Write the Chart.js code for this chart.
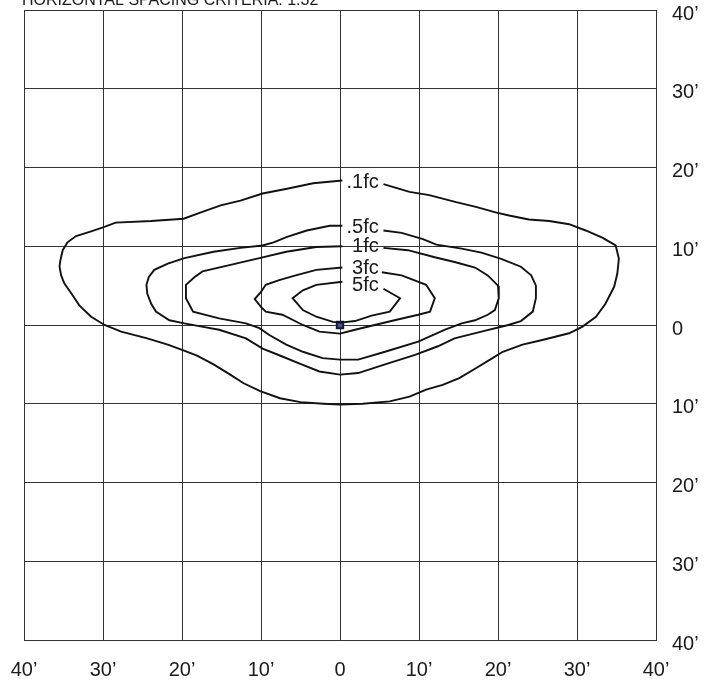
<!DOCTYPE html>
<html>
<head>
<meta charset="utf-8">
<script src="https://cdn.jsdelivr.net/npm/chart.js@4/dist/chart.umd.min.js"></script>
<style>
  html, body { margin: 0; padding: 0; background: #fff; }
  #wrap { width: 715px; height: 681px; position: relative; }
</style>
</head>
<body>
<div id="wrap"><canvas id="isoChart"></canvas></div>
<script>
// tick labels (feet from fixture)
const xTickLabels = ['40’', '30’', '20’', '10’', '0', '10’', '20’', '30’', '40’'];
const yTickLabels = ['40’', '30’', '20’', '10’', '0', '10’', '20’', '30’', '40’'];
const chartTitle = 'HORIZONTAL SPACING CRITERIA: 1.32';

// iso-footcandle levels and where their labels sit
const levelNames = ['.1fc', '.5fc', '1fc', '3fc', '5fc'];
const labelX = [4.9, 4.9, 4.9, 4.9, 4.9];
const labelY = [18.1, 12.4, 10.0, 7.2, 5.0];

// each contour starts right of its label, runs clockwise, ends left of the label
const contour01 = [
  [5.5, 17.9], [8.8, 16.9], [11.3, 16.5], [14.7, 15.6], [17.2, 15.0], [19.7, 14.3], [21.4, 13.9],
  [23.9, 13.4], [26.5, 13.2], [29.0, 12.8], [31.1, 12.0], [33.2, 11.1], [34.9, 10.1], [35.3, 8.4],
  [35.1, 6.5], [34.7, 4.85], [33.6, 2.7], [32.4, 1.05], [30.7, -0.2], [29.0, -1.05], [25.6, -1.9],
  [23.1, -2.5], [20.6, -3.4], [19.3, -4.2], [17.2, -5.5], [15.1, -6.75], [13.0, -7.6], [10.9, -8.2],
  [8.8, -9.1], [6.3, -9.7], [2.9, -10.0], [0, -10.1], [-2.1, -10.0], [-5.0, -9.8], [-7.6, -9.3],
  [-10.1, -8.4], [-12.2, -7.4], [-13.9, -6.3], [-16.0, -5.0], [-18.1, -3.9], [-19.9, -3.2],
  [-21.8, -2.5], [-24.4, -1.7], [-27.7, -0.84], [-29.8, 0], [-31.5, 1.05], [-33.0, 2.5], [-34.0, 4.0],
  [-34.9, 5.3], [-35.3, 6.3], [-35.5, 7.4], [-35.4, 8.2], [-35.1, 9.5], [-34.5, 10.5], [-33.4, 11.3],
  [-31.5, 11.9], [-30.0, 12.4], [-28.4, 13.0], [-23.9, 13.2], [-19.8, 13.5], [-17.6, 14.3],
  [-15.1, 15.2], [-12.6, 15.8], [-9.8, 16.7], [-6.7, 17.3], [-3.4, 18.0], [0.3, 18.35]
];
const contour05 = [
  [5.5, 12.0], [7.8, 11.7], [10.5, 10.9], [12.2, 10.2], [15.4, 9.7], [17.9, 9.2], [20.4, 8.4],
  [22.9, 7.4], [24.2, 6.3], [24.8, 5.0], [24.8, 3.4], [24.4, 1.7], [22.9, 0.5], [21.3, 0],
  [17.9, -0.84], [14.5, -1.7], [12.4, -2.7], [9.5, -3.8], [5.7, -5.0], [2.3, -6.1], [0, -6.3],
  [-2.6, -5.9], [-5.1, -4.9], [-7.3, -4.0], [-9.8, -3.0], [-11.9, -1.7], [-15.3, -0.6], [-17.5, -0.2],
  [-19.7, 0.2], [-21.6, 0.6], [-23.3, 1.7], [-23.9, 2.7], [-24.4, 4.0], [-24.5, 5.1], [-24.2, 6.1],
  [-23.5, 7.0], [-21.8, 7.8], [-19.7, 8.5], [-16.0, 9.3], [-12.6, 9.8], [-9.8, 10.1], [-8.4, 10.5],
  [-6.7, 11.2], [-4.2, 12.0], [-1.3, 12.6], [0.3, 12.6]
];
const contour1 = [
  [5.5, 9.8], [8.6, 9.5], [12.0, 8.6], [14.5, 8.0], [17.1, 7.3], [18.7, 6.3], [20.0, 5.0],
  [20.1, 3.4], [19.6, 1.9], [18.7, 1.3], [17.1, 0.6], [15.4, 0.2], [13.3, -0.6], [9.9, -2.1],
  [5.7, -3.4], [2.3, -4.4], [0, -4.4], [-2.2, -4.2], [-4.7, -3.4], [-6.8, -2.5], [-8.9, -1.3],
  [-10.2, -0.4], [-11.9, 0.2], [-15.3, 0.84], [-18.6, 1.7], [-19.5, 3.4], [-19.5, 5.1], [-18.4, 6.1],
  [-17.4, 6.8], [-14.0, 7.6], [-10.2, 8.5], [-6.8, 9.3], [-3.0, 9.9], [0.3, 10.0]
];
const contour3 = [
  [5.3, 6.7], [7.8, 6.3], [10.9, 5.1], [12.0, 3.4], [11.4, 1.7], [9.9, 1.3], [6.9, 0.6], [4.4, 0],
  [1.9, -0.6], [0, -1.1], [-2.6, -0.84], [-4.7, 0], [-7.3, 1.3], [-9.4, 1.7], [-10.0, 2.3],
  [-10.8, 3.3], [-10.0, 4.2], [-9.4, 5.1], [-7.7, 5.7], [-5.6, 6.3], [-3.0, 7.0], [0.3, 7.3]
];
const contour5 = [
  [5.5, 4.6], [7.6, 3.4], [6.3, 1.7], [4.0, 1.2], [1.9, 0.5], [0, 0.3], [-0.9, 0.4], [-3.0, 1.05],
  [-4.7, 1.9], [-6.0, 3.4], [-4.7, 4.4], [-3.0, 5.1], [0.3, 5.5]
];
const contours = [contour01, contour05, contour1, contour3, contour5];

// fixture location
const fixture = [[0, 0]];

const FONT = '"Liberation Sans", Arial, Helvetica, sans-serif';

const toXY = pts => pts.map(p => ({ x: p[0], y: p[1] }));

const datasets = contours.map((pts, i) => ({
  label: levelNames[i],
  data: toXY(pts),
  showLine: true,
  borderColor: '#111',
  borderWidth: 1.9,
  pointRadius: 0,
  tension: 0,
  fill: false
}));
datasets.push({
  label: 'fixture',
  data: toXY(fixture),
  pointStyle: 'rect',
  pointRadius: 4.5,
  backgroundColor: '#2f56b0',
  borderColor: '#1b1b2e',
  borderWidth: 2
});

// no extra room for overflowing tick labels, the layout padding decides
const noOverflow = s => { s.paddingTop = 0; s.paddingBottom = 0; s.paddingLeft = 0; s.paddingRight = 0; };

// level labels + clipped title
const textPlugin = {
  id: 'isoText',
  afterDatasetsDraw(chart) {
    const { ctx, scales } = chart;
    ctx.save();
    ctx.fillStyle = '#1a1a1a';
    ctx.font = '20px ' + FONT;
    ctx.textAlign = 'right';
    ctx.textBaseline = 'middle';
    levelNames.forEach((name, i) => {
      ctx.fillText(name, scales.x.getPixelForValue(labelX[i]), scales.y.getPixelForValue(labelY[i]));
    });
    ctx.font = '16px ' + FONT;
    ctx.textAlign = 'left';
    ctx.textBaseline = 'alphabetic';
    ctx.fillText(chartTitle, chart.chartArea.left - 2, 5);
    ctx.restore();
  }
};

new Chart(document.getElementById('isoChart'), {
  type: 'scatter',
  data: { datasets: datasets },
  options: {
    responsive: true,
    maintainAspectRatio: false,
    animation: false,
    layout: { padding: { left: 24, top: 10, right: 0, bottom: 0 } },
    plugins: {
      legend: { display: false },
      tooltip: { enabled: false }
    },
    scales: {
      x: {
        type: 'linear',
        min: -40,
        max: 40,
        afterFit: s => { s.height = 41; noOverflow(s); },
        afterBuildTicks: s => { s.ticks = xTickLabels.map((_, i) => ({ value: -40 + i * 10 })); },
        ticks: {
          color: '#1a1a1a',
          font: { family: FONT, size: 20 },
          padding: 18,
          maxRotation: 0,
          autoSkip: false,
          callback: (v, i) => xTickLabels[i]
        },
        grid: { color: '#333', lineWidth: 1, drawTicks: false },
        border: { color: '#333', width: 1 }
      },
      y: {
        type: 'linear',
        position: 'right',
        min: -40,
        max: 40,
        afterFit: s => { s.width = 59; noOverflow(s); },
        afterBuildTicks: s => { s.ticks = yTickLabels.map((_, i) => ({ value: -40 + i * 10 })); },
        ticks: {
          color: '#1a1a1a',
          font: { family: FONT, size: 20 },
          padding: 16,
          labelOffset: 4,
          autoSkip: false,
          callback: (v, i) => yTickLabels[i]
        },
        grid: { color: '#333', lineWidth: 1, drawTicks: false },
        border: { color: '#333', width: 1 }
      }
    }
  },
  plugins: [textPlugin]
});
</script>
</body>
</html>
